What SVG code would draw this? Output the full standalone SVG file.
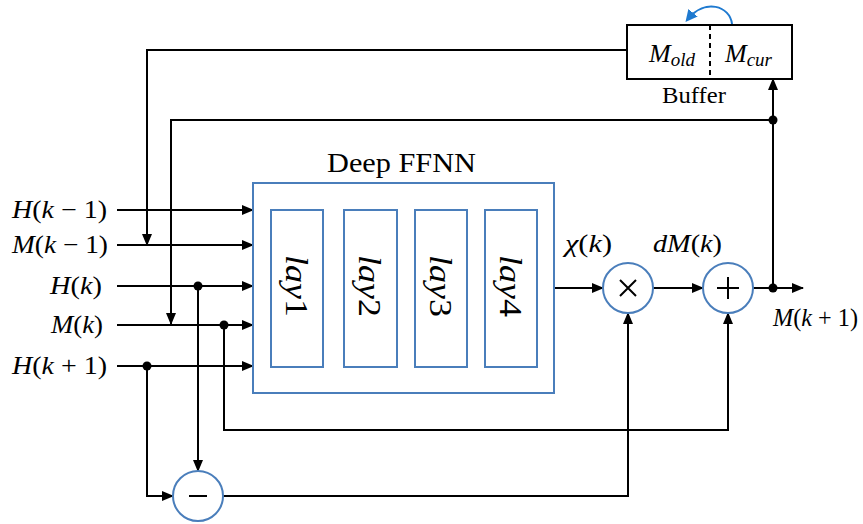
<svg xmlns="http://www.w3.org/2000/svg" width="863" height="524" viewBox="0 0 863 524">
<defs>
<marker id="arr" markerUnits="userSpaceOnUse" markerWidth="12" markerHeight="10" refX="11" refY="5" orient="auto"><path d="M0,0 L12,5 L0,10 Z" fill="#000"/></marker>
<marker id="arrb" markerUnits="userSpaceOnUse" markerWidth="12" markerHeight="12" refX="8" refY="6" orient="auto"><path d="M0,0 L12,6 L0,12 Z" fill="#1f7ad0"/></marker>
<style>
.ln{fill:none;stroke:#000;stroke-width:2}
.bx{fill:#fff;stroke:#4a7ebb;stroke-width:2}
.t{font-family:"Liberation Serif",serif;font-size:25px;fill:#000}
.i{font-style:italic}
.dot{fill:#000}
.ly{font-size:32px}
</style>
</defs>
<g id="connectors">
<path class="ln" d="M627,50 H147 V245" marker-end="url(#arr)"/>
<path class="ln" d="M773,120 H171 V324" marker-end="url(#arr)"/>
<path class="ln" d="M117,210 H253" marker-end="url(#arr)"/>
<path class="ln" d="M117,245 H253" marker-end="url(#arr)"/>
<path class="ln" d="M117,286 H253" marker-end="url(#arr)"/>
<path class="ln" d="M117,325 H253" marker-end="url(#arr)"/>
<path class="ln" d="M117,366 H253" marker-end="url(#arr)"/>
<path class="ln" d="M147,366 V496 H173" marker-end="url(#arr)"/>
<path class="ln" d="M198,286 V471" marker-end="url(#arr)"/>
<path class="ln" d="M224,325 V430 H728 V313" marker-end="url(#arr)"/>
<path class="ln" d="M223,496 H628 V313" marker-end="url(#arr)"/>
<path class="ln" d="M554,288 H603" marker-end="url(#arr)"/>
<path class="ln" d="M653,288 H703" marker-end="url(#arr)"/>
<path class="ln" d="M753,288 H803" marker-end="url(#arr)"/>
<path class="ln" d="M773,288 V79" marker-end="url(#arr)"/>
<circle class="dot" cx="773" cy="120" r="4.5"/>
<circle class="dot" cx="773" cy="288" r="4.5"/>
<circle class="dot" cx="198" cy="286" r="4.5"/>
<circle class="dot" cx="224" cy="325" r="4.5"/>
<circle class="dot" cx="147" cy="366" r="4.5"/>
</g>
<g id="inputs">
<text class="t" x="12" y="218" textLength="95" lengthAdjust="spacingAndGlyphs"><tspan class="i">H</tspan>(<tspan class="i">k</tspan> − 1)</text>
<text class="t" x="12" y="253" textLength="96" lengthAdjust="spacingAndGlyphs"><tspan class="i">M</tspan>(<tspan class="i">k</tspan> − 1)</text>
<text class="t" x="50" y="294" textLength="52" lengthAdjust="spacingAndGlyphs"><tspan class="i">H</tspan>(<tspan class="i">k</tspan>)</text>
<text class="t" x="51" y="333" textLength="52" lengthAdjust="spacingAndGlyphs"><tspan class="i">M</tspan>(<tspan class="i">k</tspan>)</text>
<text class="t" x="12" y="374" textLength="95" lengthAdjust="spacingAndGlyphs"><tspan class="i">H</tspan>(<tspan class="i">k</tspan> + 1)</text>
</g>
<g id="ffnn">
<rect class="bx" x="253" y="183" width="301" height="210"/>
<text class="t" x="327" y="172" textLength="149" lengthAdjust="spacingAndGlyphs" style="font-size:28px">Deep FFNN</text>
</g>
<g id="lay1"><rect class="bx" x="271" y="210" width="52" height="157"/><text class="t ly" transform="translate(286,255) rotate(90)" textLength="62" lengthAdjust="spacingAndGlyphs"><tspan class="i">lay</tspan>1</text></g>
<g id="lay2"><rect class="bx" x="344" y="210" width="53" height="157"/><text class="t ly" transform="translate(359,255) rotate(90)" textLength="62" lengthAdjust="spacingAndGlyphs"><tspan class="i">lay</tspan>2</text></g>
<g id="lay3"><rect class="bx" x="415" y="210" width="52" height="157"/><text class="t ly" transform="translate(430,255) rotate(90)" textLength="62" lengthAdjust="spacingAndGlyphs"><tspan class="i">lay</tspan>3</text></g>
<g id="lay4"><rect class="bx" x="485" y="210" width="52" height="157"/><text class="t ly" transform="translate(500,255) rotate(90)" textLength="62" lengthAdjust="spacingAndGlyphs"><tspan class="i">lay</tspan>4</text></g>
<g id="mult">
<circle class="bx" cx="628" cy="288" r="25"/>
<path d="M620,280 L636,296 M636,280 L620,296" stroke="#000" stroke-width="2"/>
<text class="t" x="565" y="252" textLength="47" lengthAdjust="spacingAndGlyphs"><tspan class="i">χ</tspan>(<tspan class="i">k</tspan>)</text>
</g>
<g id="plus">
<circle class="bx" cx="728" cy="288" r="25"/>
<path d="M728,277 V299 M717,288 H739" stroke="#000" stroke-width="2"/>
<text class="t" x="653" y="252" textLength="69" lengthAdjust="spacingAndGlyphs"><tspan class="i">dM</tspan>(<tspan class="i">k</tspan>)</text>
</g>
<g id="minus">
<circle class="bx" cx="198" cy="496" r="25"/>
<path d="M189,496 H207" stroke="#000" stroke-width="2"/>
</g>
<g id="output">
<text class="t" x="773" y="326" textLength="85" lengthAdjust="spacingAndGlyphs"><tspan class="i">M</tspan>(<tspan class="i">k</tspan> + 1)</text>
</g>
<g id="buffer">
<rect x="627" y="25" width="165" height="54" fill="#fff" stroke="#000" stroke-width="2"/>
<path d="M710,25 V79" stroke="#000" stroke-width="2" stroke-dasharray="5,4"/>
<text class="t" x="649" y="62" style="font-size:26px"><tspan class="i">M</tspan><tspan class="i" dy="4" style="font-size:19px">old</tspan></text>
<text class="t" x="725" y="62" style="font-size:26px"><tspan class="i">M</tspan><tspan class="i" dy="4" style="font-size:19px">cur</tspan></text>
<text class="t" x="662" y="103" textLength="64" lengthAdjust="spacingAndGlyphs" style="font-size:23px">Buffer</text>
<path d="M732,24 C730,6 705,-2 688,19" fill="none" stroke="#1f7ad0" stroke-width="2" marker-end="url(#arrb)"/>
</g>
</svg>
